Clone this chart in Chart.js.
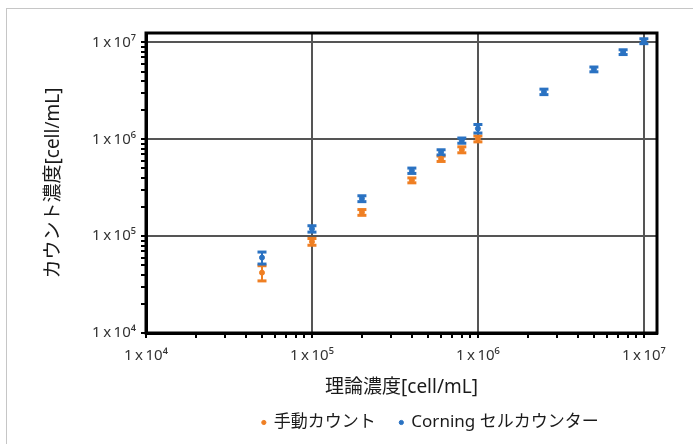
<!DOCTYPE html>
<html lang="ja">
<head>
<meta charset="utf-8">
<script src="https://cdn.jsdelivr.net/npm/chart.js@4.4.1/dist/chart.umd.min.js"></script>
<style>
  html, body { margin: 0; padding: 0; background: #fff; }
  #wrap { position: relative; width: 693px; height: 444px; overflow: hidden; }
  #frame { position: absolute; left: 6px; top: 8px; width: 700px; height: 450px; border: 1px solid #c6c6c6; }
  canvas { position: absolute; left: 0; top: 0; }
</style>
</head>
<body>
<div id="wrap">
  <div id="frame"></div>
  <canvas id="chart" width="693" height="444"></canvas>
</div>
<script>
// theoretical concentration (x) and counted concentration (y), cell/mL
const theory = [5e4, 1e5, 2e5, 4e5, 6e5, 8e5, 1e6, 2.5e6, 5e6, 7.5e6, 1e7];
const manualCount = [4.2e4, 8.75e4, 1.76e5, 3.77e5, 6.3e5, 7.8e5, 1.01e6];
const manualErr = [7500, 7000, 12000, 22000, 40000, 55000, 70000];
const corningCount = [6.0e4, 1.19e5, 2.44e5, 4.74e5, 7.34e5, 9.7e5, 1.29e6, 3.09e6, 5.27e6, 7.94e6, 1.03e7];
const corningErr = [8500, 9000, 17000, 30000, 45000, 60000, 130000, 200000, 300000, 450000, 600000];

const seriesNames = ['手動カウント', 'Corning セルカウンター'];
const decades = [1e4, 1e5, 1e6, 1e7];
const decadeLabels = ['1\u2009x\u200910⁴', '1\u2009x\u200910⁵', '1\u2009x\u200910⁶', '1\u2009x\u200910⁷'];
const minorSteps = [2, 3, 4, 5, 6, 7, 8, 9];

const FONT = '"Noto Sans", "Noto Sans CJK JP", sans-serif';

function logTicks(max) {
  const out = [];
  decades.forEach(d => {
    out.push({ value: d });
    minorSteps.forEach(m => { if (m * d <= max) out.push({ value: m * d }); });
  });
  return out;
}

function toPoints(ys) {
  return ys.map((y, i) => ({ x: theory[i], y }));
}

const isDecade = c => c.tick && decades.includes(c.tick.value);

function axis(max, title, labelPad, fit) {
  return {
    type: 'logarithmic',
    min: 1e4,
    max: max,
    afterBuildTicks: s => { s.ticks = logTicks(max); },
    afterFit: fit,
    border: { display: true, color: '#000', width: 3 },
    grid: {
      color: c => isDecade(c) ? '#555' : 'rgba(0,0,0,0)',
      lineWidth: c => isDecade(c) ? 2 : 0,
      drawTicks: true,
      tickLength: 5,
      tickWidth: 2,
      tickColor: '#000'
    },
    ticks: {
      autoSkip: false,
      maxRotation: 0,
      padding: labelPad,
      color: '#333',
      font: { family: FONT, size: 15 },
      callback: v => {
        const i = decades.indexOf(v);
        return i >= 0 ? decadeLabels[i] : '';
      }
    },
    title: {
      display: true,
      text: title,
      color: '#1a1a1a',
      font: { family: FONT, size: 19 }
    }
  };
}

// error bars drawn under the markers
const errorBars = {
  id: 'errorBars',
  beforeDatasetsDraw(chart) {
    const { ctx, scales: { x, y } } = chart;
    chart.data.datasets.forEach((ds, di) => {
      if (!chart.isDatasetVisible(di)) return;
      ctx.save();
      ctx.fillStyle = ds.borderColor;
      ctx.strokeStyle = ds.borderColor;
      ctx.lineWidth = 2;
      ds.data.forEach((p, i) => {
        const e = ds.errors[i];
        const px = x.getPixelForValue(p.x);
        const top = y.getPixelForValue(p.y + e);
        const bot = y.getPixelForValue(p.y - e);
        ctx.beginPath();
        ctx.moveTo(px, top);
        ctx.lineTo(px, bot);
        ctx.stroke();
        ctx.fillRect(px - 4.5, top - 1.5, 9, 3);
        ctx.fillRect(px - 4.5, bot - 1.5, 9, 3);
      });
      ctx.restore();
    });
  }
};

// black box round the plot area
const plotFrame = {
  id: 'plotFrame',
  afterDatasetsDraw(chart) {
    const { ctx, chartArea: a } = chart;
    ctx.save();
    ctx.strokeStyle = '#000';
    ctx.lineWidth = 3;
    ctx.strokeRect(a.left, a.top, a.right - a.left, a.bottom - a.top);
    ctx.restore();
  }
};

// legend sits a little right of the plot centre
const legendOffset = {
  id: 'legendOffset',
  afterLayout(chart) {
    const lg = chart.legend;
    lg.left += 29;
    lg.right += 29;
    lg.top -= 13;
  }
};

window.onload = () => {
  new Chart(document.getElementById('chart').getContext('2d'), {
    type: 'scatter',
    data: {
      datasets: [
        {
          label: seriesNames[0],
          data: toPoints(manualCount),
          errors: manualErr,
          borderColor: '#ef7f23',
          backgroundColor: '#ef7f23',
          pointRadius: 2.5,
          pointHoverRadius: 2.5
        },
        {
          label: seriesNames[1],
          data: toPoints(corningCount),
          errors: corningErr,
          borderColor: '#2a72c2',
          backgroundColor: '#2a72c2',
          pointRadius: 2.5,
          pointHoverRadius: 2.5
        }
      ]
    },
    options: {
      responsive: false,
      animation: false,
      layout: { padding: { left: 38, right: 36, top: 33, bottom: 0 } },
      scales: {
        x: axis(1.2e7, '理論濃度[cell/mL]', 9, s => { s.height = 70; }),
        y: axis(1.25e7, 'カウント濃度[cell/mL]', 5, s => { s.width = 108; })
      },
      plugins: {
        legend: {
          position: 'bottom',
          fullSize: false,
          maxHeight: 41,
          labels: {
            usePointStyle: true,
            pointStyle: 'circle',
            boxWidth: 3,
            boxHeight: 3,
            padding: 24,
            color: '#1a1a1a',
            font: { family: FONT, size: 17 }
          }
        },
        tooltip: { enabled: false }
      }
    },
    plugins: [errorBars, plotFrame, legendOffset]
  });
};
</script>
</body>
</html>
